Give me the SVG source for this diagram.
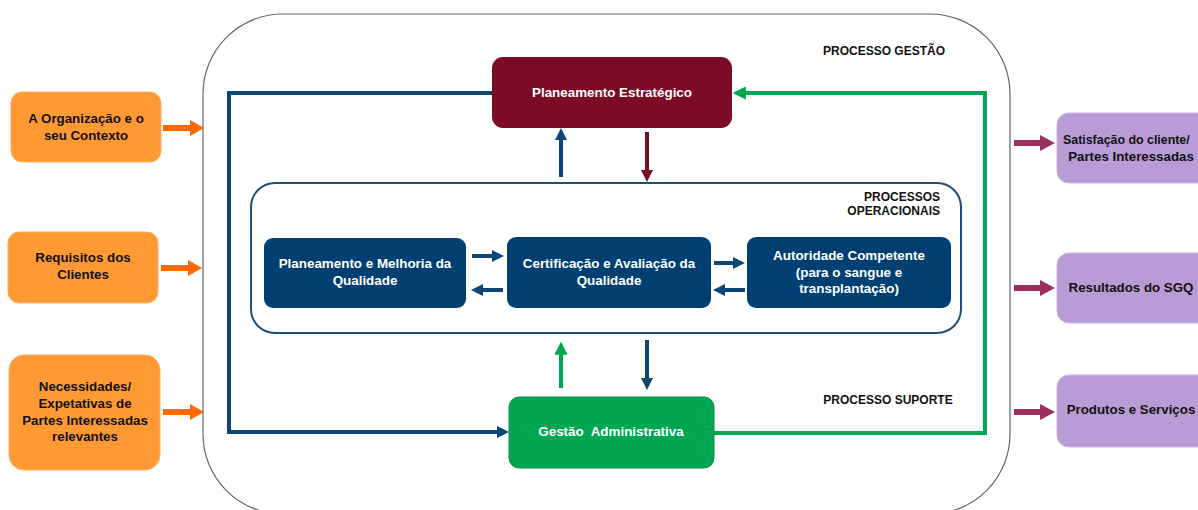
<svg xmlns="http://www.w3.org/2000/svg" width="1198" height="510" viewBox="0 0 1198 510">
<style>
text{font-family:"Liberation Sans",Arial,sans-serif;font-weight:bold;text-anchor:middle}
.wt{fill:#fff;font-size:13.4px}
.bk{fill:#111;font-size:13.3px}
.lbl{fill:#111;font-size:12px}
.orange{fill:#FF9933;stroke:#FFB066;stroke-width:1}
.purple{fill:#B89CD6;stroke:#C9B3E0;stroke-width:1}
.dblue{fill:#003F72}
.blueLn{stroke:#0D4574;stroke-width:4;fill:none}
.greenLn{stroke:#00A651;stroke-width:4;fill:none}
.marLn{stroke:#7B0C24;stroke-width:4;fill:none}
</style>
<defs>
<marker id="hb" viewBox="0 0 10 10" refX="6.7" refY="5" markerWidth="3" markerHeight="3" orient="auto"><path d="M0,0L10,5L0,10z" fill="#0D4574"/></marker>
<marker id="hg" viewBox="0 0 10 10" refX="6.7" refY="5" markerWidth="3.3" markerHeight="3.3" orient="auto"><path d="M0,0L10,5L0,10z" fill="#00A651"/></marker>
<marker id="hm" viewBox="0 0 10 10" refX="6.7" refY="5" markerWidth="3" markerHeight="3" orient="auto"><path d="M0,0L10,5L0,10z" fill="#7B0C24"/></marker>
</defs>
<rect width="1198" height="510" fill="#fff"/>
<rect x="203" y="14" width="807" height="500" rx="80" fill="none" stroke="#666" stroke-width="1.2"/>
<text class="lbl" x="884" y="55">PROCESSO GESTÃO</text>
<text class="lbl" x="888" y="404">PROCESSO SUPORTE</text>

<g id="connectors">
<path class="blueLn" d="M492,93H229V432H505" marker-end="url(#hb)"/>
<path class="greenLn" d="M714,433H985V93H737" marker-end="url(#hg)"/>
<line class="blueLn" x1="561" y1="177" x2="561" y2="132" marker-end="url(#hb)"/>
<line class="marLn" x1="647" y1="132" x2="647" y2="178" marker-end="url(#hm)"/>
<line class="greenLn" x1="561" y1="388" x2="561" y2="346" marker-end="url(#hg)"/>
<line class="blueLn" x1="647" y1="340" x2="647" y2="386" marker-end="url(#hb)"/>
<line class="blueLn" x1="472" y1="256" x2="500" y2="256" marker-end="url(#hb)"/>
<line class="blueLn" x1="503" y1="290" x2="475" y2="290" marker-end="url(#hb)"/>
<line class="blueLn" x1="714" y1="263" x2="741" y2="263" marker-end="url(#hb)"/>
<line class="blueLn" x1="745" y1="290" x2="717" y2="290" marker-end="url(#hb)"/>
<polygon fill="#FF6A00" points="163,125 190,125 190,120 204,128 190,136 190,131 163,131"/>
<polygon fill="#FF6A00" points="161,265 188,265 188,260 202,268 188,276 188,271 161,271"/>
<polygon fill="#FF6A00" points="163,409 190,409 190,404 204,412 190,420 190,415 163,415"/>
<polygon fill="#9B2F5F" points="1014,140 1040,140 1040,135 1055,143 1040,151 1040,146 1014,146"/>
<polygon fill="#9B2F5F" points="1014,285 1040,285 1040,280 1055,288 1040,296 1040,291 1014,291"/>
<polygon fill="#9B2F5F" points="1014,409 1040,409 1040,404 1055,412 1040,420 1040,415 1014,415"/>
</g>

<g id="n-organizacao"><rect class="orange" x="11" y="92" width="150" height="70" rx="11"/><text class="bk" x="86" y="123">A Organização e o</text><text class="bk" x="86" y="140">seu Contexto</text></g>
<g id="n-requisitos"><rect class="orange" x="8" y="232" width="150" height="71" rx="11"/><text class="bk" x="83" y="262">Requisitos dos</text><text class="bk" x="83" y="279">Clientes</text></g>
<g id="n-necessidades"><rect class="orange" x="9" y="355" width="151" height="115" rx="15"/><text class="bk" x="85" y="391">Necessidades/</text><text class="bk" x="85" y="408">Expetativas de</text><text class="bk" x="85" y="425">Partes Interessadas</text><text class="bk" x="85" y="441">relevantes</text></g>

<g id="n-satisfacao"><rect class="purple" x="1057" y="113" width="160" height="70" rx="12"/><text class="bk" x="1063" y="144" style="text-anchor:start;font-size:12.4px">Satisfação do cliente/</text><text class="bk" x="1131" y="161">Partes Interessadas</text></g>
<g id="n-resultados"><rect class="purple" x="1057" y="253" width="160" height="70" rx="12"/><text class="bk" x="1131" y="292">Resultados do SGQ</text></g>
<g id="n-produtos"><rect class="purple" x="1057" y="375" width="160" height="72" rx="12"/><text class="bk" x="1131" y="414">Produtos e Serviços</text></g>

<g id="n-planeamento-estrategico"><rect x="492" y="57" width="240" height="71" rx="11" fill="#7B0C24"/><text class="wt" x="612" y="97">Planeamento Estratégico</text></g>

<g id="n-processos-operacionais"><rect x="251" y="183" width="710" height="150" rx="24" fill="none" stroke="#1F4E79" stroke-width="2"/><text class="lbl" x="940" y="201" style="text-anchor:end">PROCESSOS</text><text class="lbl" x="940" y="215" style="text-anchor:end">OPERACIONAIS</text></g>
<g id="n-planeamento-melhoria"><rect class="dblue" x="264" y="238" width="202" height="70" rx="9"/><text class="wt" x="365" y="268">Planeamento e Melhoria da</text><text class="wt" x="365" y="285">Qualidade</text></g>
<g id="n-certificacao"><rect class="dblue" x="507" y="237" width="204" height="71" rx="9"/><text class="wt" x="609" y="268">Certificação e Avaliação da</text><text class="wt" x="609" y="285">Qualidade</text></g>
<g id="n-autoridade"><rect class="dblue" x="747" y="237" width="204" height="71" rx="9"/><text class="wt" x="849" y="260">Autoridade Competente</text><text class="wt" x="849" y="277">(para o sangue e</text><text class="wt" x="849" y="293">transplantação)</text></g>

<g id="n-gestao-administrativa"><rect x="509" y="397" width="205" height="71" rx="10" fill="#00A651" stroke="#0E8F48" stroke-width="1"/><text class="wt" x="611" y="436" xml:space="preserve" style="white-space:pre">Gestão  Administrativa</text></g>
</svg>
